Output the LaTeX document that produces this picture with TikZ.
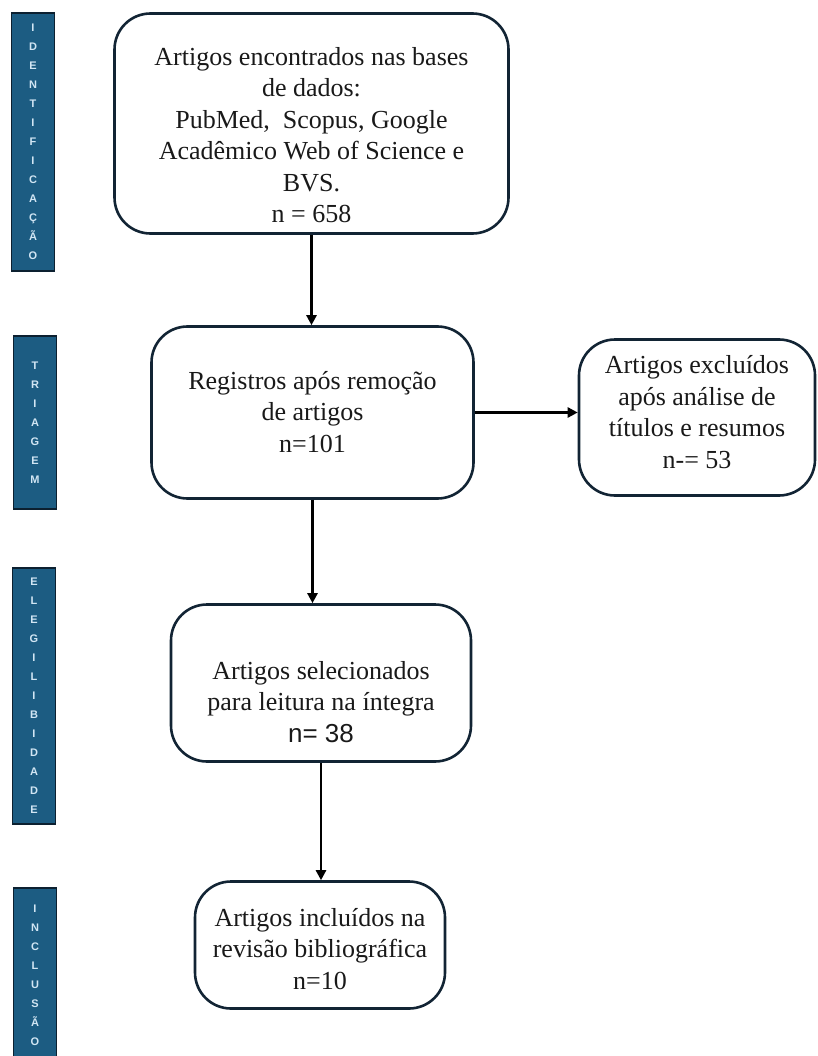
\documentclass[tikz,border=0pt]{standalone}
\usepackage{fontspec}
\setmainfont{Liberation Serif}
\newfontfamily\sansf{Liberation Sans}
\usetikzlibrary{arrows.meta}
\definecolor{barfill}{RGB}{28,92,130}
\definecolor{barline}{RGB}{12,32,48}
\definecolor{barletter}{RGB}{210,230,244}
\definecolor{boxline}{RGB}{18,36,52}
\begin{document}
\begin{tikzpicture}[x=1pt,y=-1pt,
  flowbox/.style={draw=boxline,line width=2.6pt,rounded corners=36pt,inner sep=0pt},
  boxtext/.style={align=center,font=\fontsize{26}{31.5}\selectfont,inner sep=0pt,text=black!90},
  phasebar/.style={draw=barline,line width=1.8pt,fill=barfill,text=barletter,align=center,
    font=\sansf\bfseries\fontsize{11}{19}\selectfont,inner sep=0pt,minimum width=43pt},
  flowarrow/.style={line width=2.4pt,draw=black,-{Triangle[length=10pt,width=10pt]}}]
\useasboundingbox (0,0) rectangle (818,1056);

% phase bars
\node[phasebar,minimum height=258pt] (barI) at (33,142)
  {I\\D\\E\\N\\T\\I\\F\\I\\C\\A\\Ç\\Ã\\O};
\node[phasebar,minimum height=173pt] (barT) at (35,422.5)
  {T\\R\\I\\A\\G\\E\\M};
\node[phasebar,minimum height=256pt] (barE) at (34,696)
  {E\\L\\E\\G\\I\\L\\I\\B\\I\\D\\A\\D\\E};
\node[phasebar,minimum height=174pt] (barN) at (35,975)
  {I\\N\\C\\L\\U\\S\\Ã\\O};

% flow boxes
\node[flowbox,minimum width=394pt,minimum height=220pt] (ident) at (311.5,123.5) {};
\node[flowbox,minimum width=322pt,minimum height=172pt] (triag) at (312.5,412.5) {};
\node[flowbox,minimum width=236pt,minimum height=156pt] (excl) at (697,417.5) {};
\node[flowbox,minimum width=300pt,minimum height=157pt] (selec) at (321,683) {};
\node[flowbox,minimum width=250pt,minimum height=127pt] (incl) at (320,945) {};

% box texts
\node[boxtext] (identtxt) at (311.5,135)
  {Artigos encontrados nas bases\\de dados:\\PubMed,\ \ Scopus, Google\\Acadêmico Web of Science e\\BVS.\\n = 658};
\node[boxtext] (triagtxt) at (312.5,412)
  {Registros após remoção\\de artigos\\n=101};
\node[boxtext] (excltxt) at (697,412)
  {Artigos excluídos\\após análise de\\títulos e resumos\\n-= 53};
\node[boxtext] (selectxt) at (321,702)
  {Artigos selecionados\\para leitura na íntegra\\{\sansf n= 38}};
\node[boxtext] (incltxt) at (320,949)
  {Artigos incluídos na\\revisão bibliográfica\\n=10};

% connectors
\draw[flowarrow] (ident.south) -- (ident.south |- triag.north);
\draw[flowarrow] (triag.east) -- (triag.east -| excl.west);
\draw[flowarrow] (triag.south) -- (triag.south |- selec.north);
\draw[flowarrow] (selec.south) -- (selec.south |- incl.north);
\end{tikzpicture}
\end{document}
